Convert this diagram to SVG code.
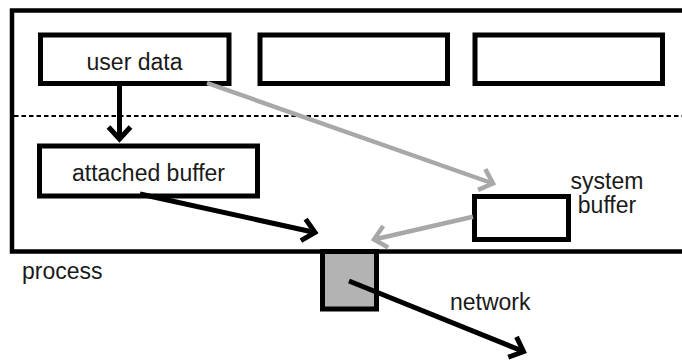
<svg xmlns="http://www.w3.org/2000/svg" width="682" height="360" viewBox="0 0 682 360">
<style>
.box{fill:#fff;stroke:#000;stroke-width:5}
.lbl{font-family:"Liberation Sans",Arial,sans-serif;font-size:23px;fill:#1a1a1a}
.blk{stroke:#000;stroke-width:5;fill:none}
.gry{stroke:#a8a8a8;stroke-width:4.5;fill:none}
</style>
<defs>
<marker id="ab" markerUnits="userSpaceOnUse" viewBox="-20 -20 30 40" refX="0" refY="0" markerWidth="30" markerHeight="40" orient="auto" overflow="visible">
<path d="M-12,-11 L0,0 L-12,11" fill="none" stroke="#000" stroke-width="5"/>
</marker>
<marker id="ag" markerUnits="userSpaceOnUse" viewBox="-20 -20 30 40" refX="0" refY="0" markerWidth="30" markerHeight="40" orient="auto" overflow="visible">
<path d="M-12,-11 L0,0 L-12,11" fill="none" stroke="#a8a8a8" stroke-width="4.5"/>
</marker>
</defs>
<rect width="682" height="360" fill="#fff"/>
<g id="network-port">
<rect x="322.5" y="251.5" width="54" height="57.5" fill="#b3b3b3" stroke="#000" stroke-width="5"/>
</g>
<g id="process">
<rect x="12" y="10.5" width="690" height="241" fill="none" stroke="#000" stroke-width="4.5"/>
<line x1="14" y1="116" x2="682" y2="116" stroke="#000" stroke-width="2" stroke-dasharray="4.5 3"/>
<text class="lbl" x="22" y="279">process</text>
</g>
<g id="user-data">
<rect class="box" x="40.5" y="35" width="188.5" height="48.5"/>
<text class="lbl" x="134.5" y="70" text-anchor="middle">user data</text>
</g>
<g id="box2"><rect class="box" x="260" y="35" width="187.5" height="48.5"/></g>
<g id="box3"><rect class="box" x="475" y="35" width="187.5" height="48.5"/></g>
<g id="attached-buffer">
<rect class="box" x="39.5" y="146" width="218" height="50"/>
<text class="lbl" x="148.5" y="181" text-anchor="middle">attached buffer</text>
</g>
<g id="system-buffer">
<rect class="box" x="474.5" y="196.5" width="94" height="43"/>
<text class="lbl" x="607" y="189" text-anchor="middle">system</text>
<text class="lbl" x="607" y="213" text-anchor="middle">buffer</text>
</g>
<g id="network-label">
<text class="lbl" x="450" y="310">network</text>
</g>
<g id="connectors">
<line class="blk" x1="119.5" y1="84" x2="119.5" y2="139" marker-end="url(#ab)"/>
<line class="blk" x1="140" y1="194" x2="315" y2="232.5" marker-end="url(#ab)"/>
<line class="gry" x1="207" y1="83" x2="493" y2="183.5" marker-end="url(#ag)"/>
<line class="gry" x1="473" y1="216.7" x2="374" y2="239.5" marker-end="url(#ag)"/>
<line class="blk" x1="349" y1="281" x2="523.5" y2="351.5" marker-end="url(#ab)"/>
</g>
</svg>
